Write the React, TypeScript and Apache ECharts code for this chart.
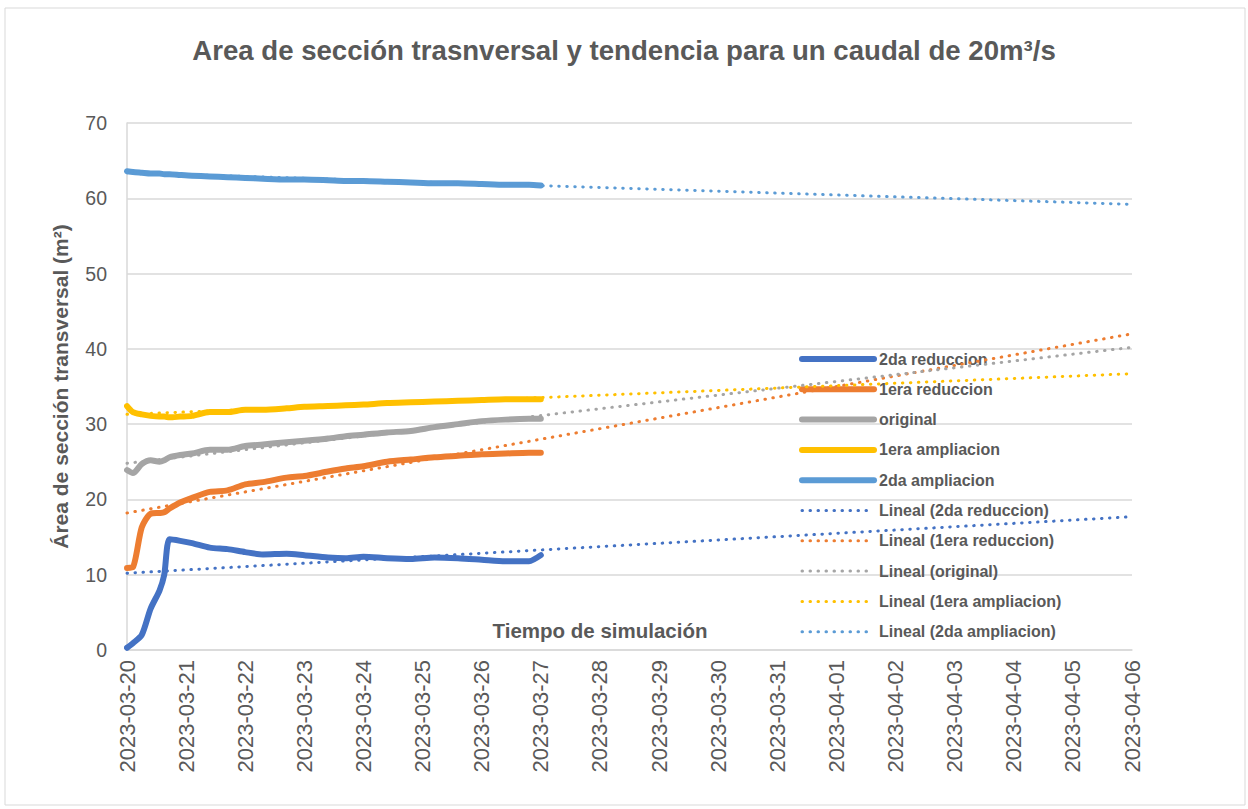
import React, { useEffect, useRef } from "react";
import * as echarts from "echarts";

const dateLabels = [
  "2023-03-20", "2023-03-21", "2023-03-22", "2023-03-23", "2023-03-24", "2023-03-25",
  "2023-03-26", "2023-03-27", "2023-03-28", "2023-03-29", "2023-03-30", "2023-03-31",
  "2023-04-01", "2023-04-02", "2023-04-03", "2023-04-04", "2023-04-05", "2023-04-06",
];

// simulation time in days since 2023-03-20
const days = [0, 0.1, 0.25, 0.4, 0.55, 0.63, 0.72, 0.9, 1.1, 1.4, 1.7, 2.0, 2.3, 2.7, 3.0, 3.4, 3.7, 4.0, 4.4, 4.8, 5.2, 5.6, 6.0, 6.4, 6.8, 7.0];

const reduccion2 = [0.3, 0.9, 2.0, 5.5, 7.9, 10.0, 14.7, 14.5, 14.2, 13.6, 13.4, 13.0, 12.7, 12.8, 12.6, 12.3, 12.2, 12.4, 12.2, 12.1, 12.3, 12.2, 12.0, 11.8, 11.8, 12.6];
const reduccion1 = [10.9, 11.0, 16.3, 18.1, 18.2, 18.3, 18.8, 19.6, 20.2, 21.0, 21.2, 22.0, 22.3, 22.9, 23.1, 23.7, 24.1, 24.4, 25.0, 25.3, 25.6, 25.8, 26.0, 26.1, 26.2, 26.2];
const original = [23.9, 23.5, 24.7, 25.2, 25.0, 25.2, 25.6, 25.9, 26.1, 26.6, 26.6, 27.1, 27.3, 27.6, 27.8, 28.1, 28.4, 28.6, 28.9, 29.1, 29.6, 30.0, 30.4, 30.6, 30.7, 30.7];
const ampliacion1 = [32.4, 31.6, 31.3, 31.1, 31.0, 31.0, 30.9, 31.0, 31.1, 31.6, 31.6, 31.9, 31.9, 32.1, 32.3, 32.4, 32.5, 32.6, 32.8, 32.9, 33.0, 33.1, 33.2, 33.3, 33.3, 33.3];
const ampliacion2 = [63.6, 63.5, 63.4, 63.3, 63.3, 63.2, 63.2, 63.1, 63.0, 62.9, 62.8, 62.7, 62.6, 62.5, 62.5, 62.4, 62.3, 62.3, 62.2, 62.1, 62.0, 62.0, 61.9, 61.8, 61.8, 61.7];

// linear trend lines: value at start and end day
const trendDays = [0, 17];
const trend2daReduccion = [10.2, 17.7];
const trend1eraReduccion = [18.2, 42.0];
const trendOriginal = [24.8, 40.2];
const trend1eraAmpliacion = [31.3, 36.7];
const trend2daAmpliacion = [63.4, 59.2];

const seriesNames = ["2da reduccion", "1era reduccion", "original", "1era ampliacion", "2da ampliacion"];
const seriesColors = ["#4472C4", "#ED7D31", "#A5A5A5", "#FFC000", "#5B9BD5"];
const seriesValues = [reduccion2, reduccion1, original, ampliacion1, ampliacion2];
const trendValues = [trend2daReduccion, trend1eraReduccion, trendOriginal, trend1eraAmpliacion, trend2daAmpliacion];

const TEXT = "#595959";
const FONT = "'Liberation Sans', 'DejaVu Sans', sans-serif";
const SOLID = { width: 6, cap: "round" as const, join: "round" as const };
const DOTTED = { width: 3, type: [0.5, 7.5], cap: "round" as const };

export default function App() {
  const ref = useRef<HTMLDivElement>(null);
  useEffect(() => {
    document.body.style.margin = "0";
    const chart = echarts.init(ref.current!, null, { renderer: "svg" });
    const solid = seriesNames.map((name, i) => ({
      name,
      type: "line",
      data: days.map((d, k) => [d, seriesValues[i][k]]),
      showSymbol: false,
      symbol: "none",
      smooth: 0.25,
      lineStyle: { color: seriesColors[i], ...SOLID },
      itemStyle: { color: seriesColors[i] },
      z: 3,
    }));
    const trends = seriesNames.map((name, i) => ({
      name: `Lineal (${name})`,
      type: "line",
      data: trendDays.map((d, k) => [d, trendValues[i][k]]),
      showSymbol: false,
      symbol: "none",
      lineStyle: { color: seriesColors[i], ...DOTTED },
      itemStyle: { color: seriesColors[i] },
      z: 4,
    }));
    const legendData = [
      ...seriesNames.map((n, i) => ({
        name: n,
        itemStyle: { color: "rgba(0,0,0,0)", opacity: 0, borderWidth: 0 },
        lineStyle: { color: seriesColors[i], ...SOLID },
      })),
      ...seriesNames.map((n, i) => ({
        name: `Lineal (${n})`,
        itemStyle: { color: "rgba(0,0,0,0)", opacity: 0, borderWidth: 0 },
        lineStyle: { color: seriesColors[i], ...DOTTED },
      })),
    ];
    chart.setOption({
      animation: false,
      textStyle: { fontFamily: FONT },
      title: {
        text: "Area de sección trasnversal y tendencia para un caudal de 20m³/s",
        left: "center",
        top: 31,
        textStyle: { color: TEXT, fontSize: 27.6, fontWeight: "bold", fontFamily: FONT },
      },
      grid: { left: 127, right: 116, top: 123, bottom: 159 },
      legend: {
        orient: "vertical",
        left: 799,
        top: 351,
        padding: 0,
        itemWidth: 72,
        itemHeight: 14,
        itemGap: 14.3,
        textStyle: { color: TEXT, fontSize: 16, fontWeight: "bold", fontFamily: FONT },
        data: legendData,
      },
      xAxis: {
        type: "value",
        min: 0,
        max: 17,
        interval: 1,
        splitLine: { show: false },
        axisTick: { show: false },
        axisLine: { show: true, lineStyle: { color: "#D9D9D9", width: 1.5 } },
        axisLabel: {
          rotate: 90,
          color: TEXT,
          fontSize: 22,
          margin: 10,
          formatter: (v: number) => dateLabels[Math.round(v)] ?? "",
        },
      },
      yAxis: {
        type: "value",
        min: 0,
        max: 70,
        interval: 10,
        name: "Área de sección transversal (m²)",
        nameLocation: "middle",
        nameGap: 56,
        nameTextStyle: { color: TEXT, fontSize: 21, fontWeight: "bold", fontFamily: FONT },
        axisLine: { show: true, lineStyle: { color: "#D9D9D9", width: 1.5 } },
        axisTick: { show: false },
        splitLine: { lineStyle: { color: "#D9D9D9", width: 1.5 } },
        axisLabel: { color: TEXT, fontSize: 19.5, margin: 20 },
      },
      graphic: [
        {
          type: "rect",
          shape: { x: 5, y: 8, width: 1240, height: 797 },
          style: { fill: "none", stroke: "#D9D9D9", lineWidth: 1 },
          silent: true,
          z: -10,
        },
        {
          type: "text",
          x: 600,
          y: 630,
          style: {
            text: "Tiempo de simulación",
            fill: TEXT,
            font: `bold 20.5px ${FONT}`,
            textAlign: "center",
            textVerticalAlign: "middle",
          },
        },
      ],
      series: [...solid, ...trends],
    });
    return () => chart.dispose();
  }, []);
  return <div ref={ref} style={{ width: 1248, height: 809 }} />;
}
